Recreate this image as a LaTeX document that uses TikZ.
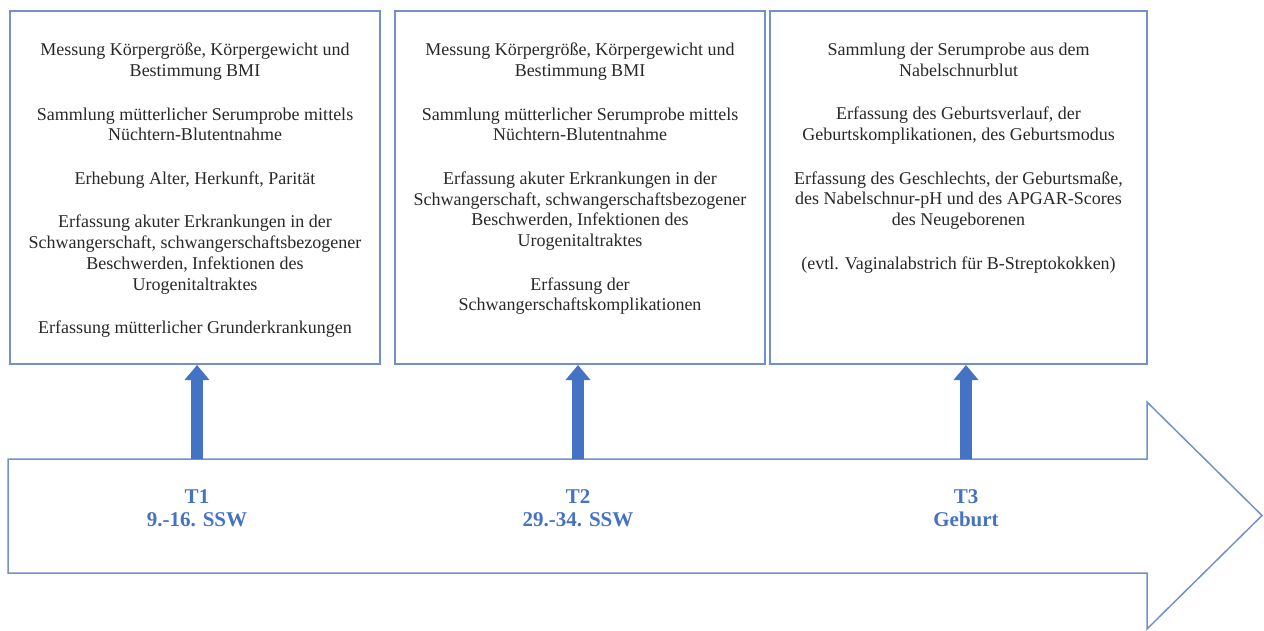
\documentclass[tikz,border=0pt]{standalone}
\usepackage{fontspec}
\setmainfont{Liberation Serif}
\usetikzlibrary{positioning,arrows.meta}
\definecolor{rahmen}{RGB}{114,145,204}
\definecolor{blau}{RGB}{68,114,196}
\definecolor{schrift}{RGB}{40,40,40}
\begin{document}
\begin{tikzpicture}[x=1pt,y=-1pt,
kasten/.style={draw=rahmen,line width=2pt,minimum width=370pt,minimum height=353pt,inner sep=0pt},
inhalt/.style={align=center,inner sep=0pt,text=schrift,font=\fontsize{18}{20.8}\selectfont},
marke/.style={align=center,inner sep=0pt,text=blau,font=\bfseries\fontsize{21}{23}\selectfont},
hoch/.style={draw=blau,line width=12pt,-{Triangle[width=24pt,length=15pt]}}]
\def\abs{\\[22.6pt]} % Leerzeile
\useasboundingbox (0,0) rectangle (1264,630);
\path 
(195,187.5) node[kasten] (K1) {}
(580,187.5) node[kasten] (K2) {}
(958.5,187.5) node[kasten,minimum width=377pt] (K3) {};
\node[inhalt,below=33pt of K1.north] (I1) {Messung Körpergröße, Körpergewicht und\\Bestimmung BMI\abs
Sammlung mütterlicher Serumprobe mittels\\Nüchtern-Blutentnahme\abs
Erhebung Alter, Herkunft, Parität\abs
Erfassung akuter Erkrankungen in der\\Schwangerschaft, schwangerschaftsbezogener\\Beschwerden, Infektionen des\\Urogenitaltraktes\abs
Erfassung mütterlicher Grunderkrankungen};
\node[inhalt,below=33pt of K2.north] (I2) {Messung Körpergröße, Körpergewicht und\\Bestimmung BMI\abs
Sammlung mütterlicher Serumprobe mittels\\Nüchtern-Blutentnahme\abs
Erfassung akuter Erkrankungen in der\\Schwangerschaft, schwangerschaftsbezogener\\Beschwerden, Infektionen des\\Urogenitaltraktes\abs
Erfassung der\\Schwangerschaftskomplikationen};
\node[inhalt,below=33pt of K3.north] (I3) {Sammlung der Serumprobe aus dem\\Nabelschnurblut\abs
Erfassung des Geburtsverlauf, der\\Geburtskomplikationen, des Geburtsmodus\abs
Erfassung des Geschlechts, der Geburtsmaße,\\des Nabelschnur-pH und des APGAR-Scores\\des Neugeborenen\abs
(evtl. Vaginalabstrich für B-Streptokokken)};
% Zeitpfeil
\draw[draw=rahmen,line width=1.5pt] 
(8,459)--(1147,459)--(1147,402)--(1262,515.5)--(1147,629)--(1147,573)--(8,573)--cycle;
\path 
(197,508) node[marke] (T1) {T1\\9.-16. SSW}
(578,508) node[marke] (T2) {T2\\29.-34. SSW}
(966,508) node[marke] (T3) {T3\\Geburt};
\coordinate (P1) at (197,459);
\coordinate (P2) at (578,459);
\coordinate (P3) at (966,459);
\draw[hoch] (P1)--(P1|-K1.south);
\draw[hoch] (P2)--(P2|-K2.south);
\draw[hoch] (P3)--(P3|-K3.south);
\end{tikzpicture}
\end{document}
